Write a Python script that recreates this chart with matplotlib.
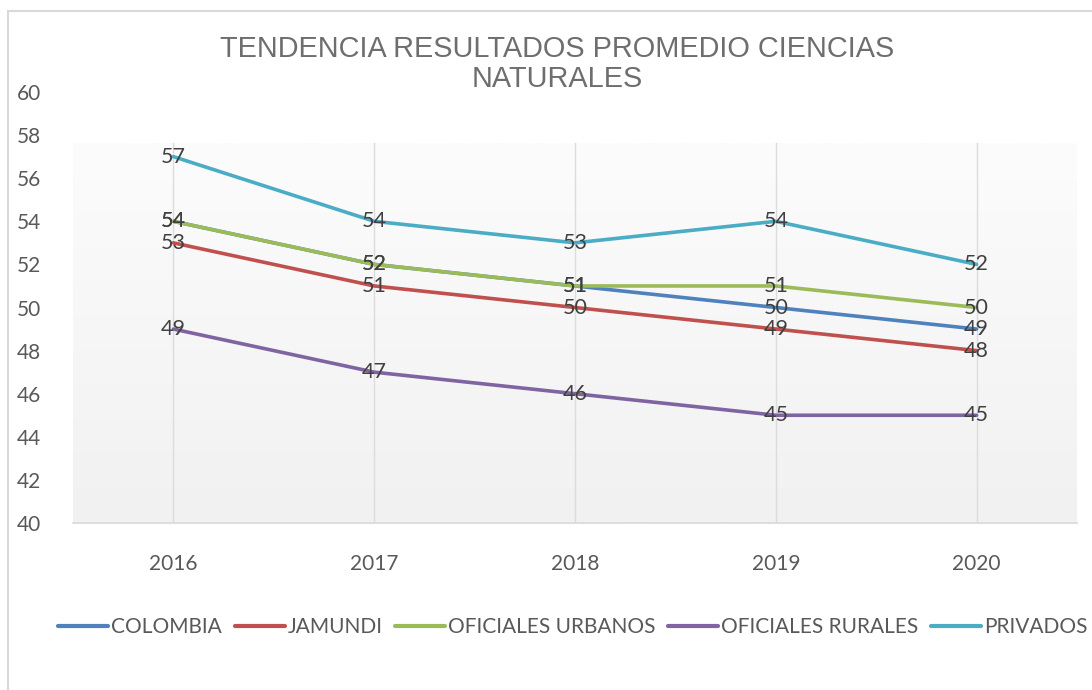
import numpy as np
import matplotlib
matplotlib.use("Agg")
import matplotlib.pyplot as plt
from matplotlib.patches import Rectangle

plt.rcParams['font.family'] = ['Lato', 'DejaVu Sans']

years = ["2016", "2017", "2018", "2019", "2020"]
colombia = [54, 52, 51, 50, 49]
jamundi = [53, 51, 50, 49, 48]
urbanos = [54, 52, 51, 51, 50]
rurales = [49, 47, 46, 45, 45]
privados = [57, 54, 53, 54, 52]

series = [
    ("COLOMBIA", colombia, "#4F81BD"),
    ("JAMUNDI", jamundi, "#C0504D"),
    ("OFICIALES URBANOS", urbanos, "#9BBB59"),
    ("OFICIALES RURALES", rurales, "#8064A2"),
    ("PRIVADOS", privados, "#4BACC6"),
]

fig = plt.figure(figsize=(10.92, 6.9), dpi=100)
ax = fig.add_axes([73 / 1092, 1 - 523 / 690, 1004 / 1092, 431 / 690])

# outer chart frame
fig.patches.append(Rectangle((8 / 1092, -0.05), 1.1, 1 - 11 / 690 + 0.05,
                             transform=fig.transFigure, fill=False,
                             edgecolor="#d9d9d9", linewidth=1.5))

# plot area gradient (white -> light gray)
grad_top = 380 / 431
grad = np.linspace(0, 1, 256).reshape(-1, 1)
cmap = matplotlib.colors.LinearSegmentedColormap.from_list("g", ["#f1f1f1", "#fcfcfc"])
ax.imshow(grad, extent=(0, 1, 0, grad_top), transform=ax.transAxes, cmap=cmap,
          aspect="auto", origin="lower", zorder=0)

x = np.arange(len(years))
for xi in x:
    ax.axvline(xi, ymin=0, ymax=grad_top, color="#dcdcdc", lw=1, zorder=1)

for name, vals, col in series:
    ax.plot(x, vals, color=col, lw=2.6, label=name, zorder=3, solid_capstyle="round")
for name, vals, col in series:
    for xi, v in zip(x, vals):
        ax.text(xi, v, str(v), ha="center", va="center", fontsize=15.5,
                color="#404040", zorder=4)

ax.set_xlim(-0.5, 4.5)
ax.set_ylim(40, 60)
ax.set_yticks(range(40, 61, 2))
ax.set_xticks(x)
ax.set_xticklabels(years)
ax.tick_params(axis="both", length=0, labelsize=15, labelcolor="#595959")
ax.tick_params(axis="y", pad=23)
ax.tick_params(axis="x", pad=22)
for s in ["top", "right", "left"]:
    ax.spines[s].set_visible(False)
ax.spines["bottom"].set_color("#d9d9d9")
ax.spines["bottom"].set_linewidth(1.2)
ax.patch.set_visible(False)

fig.text(557 / 1092, 1 - 64 / 690, "TENDENCIA RESULTADOS PROMEDIO CIENCIAS\nNATURALES",
         ha="center", va="center", fontsize=20.8, color="#6e6e6e",
         linespacing=1.05, family=["Liberation Sans", "DejaVu Sans"])

leg = fig.legend(loc="center", bbox_to_anchor=(573 / 1092, 1 - 627 / 690), ncol=5,
                 frameon=False, fontsize=15, handlelength=2.4, handletextpad=0.15,
                 columnspacing=0.6, labelcolor="#595959")
for h in leg.get_lines():
    h.set_linewidth(3)

fig.savefig("out.png", dpi=100)
